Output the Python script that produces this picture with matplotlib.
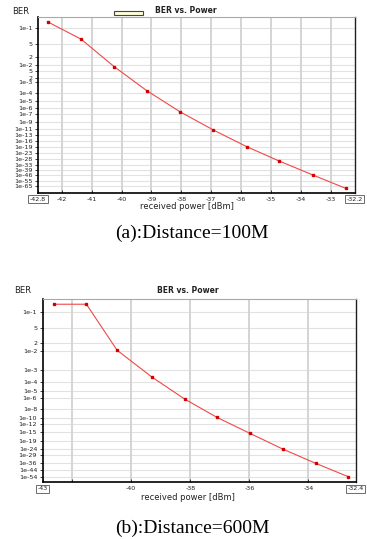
import math
import numpy as np
import matplotlib
matplotlib.use("Agg")
import matplotlib.pyplot as plt
from matplotlib.patches import Rectangle
from matplotlib.ticker import FixedLocator, FixedFormatter, NullLocator

# ---------------- data ----------------
power_a = [-42.48, -41.36, -40.25, -39.16, -38.05, -36.93, -35.81, -34.73, -33.60, -32.50]
ber_a = [1.25e-1, 6.3e-2, 8.1e-3, 1.8e-4, 2.3e-7, 4.7e-12, 1.5e-19, 4.2e-30, 1.5e-46, 5e-71]

power_b = [-42.62, -41.52, -40.48, -39.30, -38.19, -37.10, -35.98, -34.87, -33.75, -32.65]
ber_b = [1.27e-1, 1.27e-1, 1.1e-2, 2.9e-4, 7.9e-7, 1.2e-10, 3.5e-16, 6.6e-25, 2.3e-37, 5.9e-55]

yticks_a = [1e-1, 5e-2, 2e-2, 1e-2, 5e-3, 2e-3, 1e-3, 1e-4, 1e-5, 1e-6, 1e-7, 1e-9,
            1e-11, 1e-13, 1e-16, 1e-19, 1e-23, 1e-28, 1e-33, 1e-39, 1e-46, 1e-55, 1e-65]
ylabels_a = ["1e-1", "5", "2", "1e-2", "5", "2", "1e-3", "1e-4", "1e-5", "1e-6", "1e-7", "1e-9",
             "1e-11", "1e-13", "1e-16", "1e-19", "1e-23", "1e-28", "1e-33", "1e-39", "1e-46",
             "1e-55", "1e-65"]
yticks_b = [1e-1, 5e-2, 2e-2, 1e-2, 1e-3, 1e-4, 1e-5, 1e-6, 1e-8, 1e-10, 1e-12, 1e-15,
            1e-19, 1e-24, 1e-29, 1e-36, 1e-44, 1e-54]
ylabels_b = ["1e-1", "5", "2", "1e-2", "1e-3", "1e-4", "1e-5", "1e-6", "1e-8", "1e-10",
             "1e-12", "1e-15", "1e-19", "1e-24", "1e-29", "1e-36", "1e-44", "1e-54"]

xticks_a = [-42.8, -42, -41, -40, -39, -38, -37, -36, -35, -34, -33, -32.2]
xlabels_a = ["-42.8", "-42", "-41", "-40", "-39", "-38", "-37", "-36", "-35", "-34", "-33", "-32.2"]
xticks_b = [-43, -42, -40, -38, -36, -34, -32.4]
xlabels_b = ["-43", "", "-40", "-38", "-36", "-34", "-32.4"]

xlim_a = (-42.8, -32.2)
xlim_b = (-43.0, -32.4)
ylim_a = (1e-81, 0.145)
ylim_b = (1.1e-64, 0.146)

# ---------------- BER scale (negative log of Q-factor) ----------------
_erfc = np.vectorize(math.erfc, otypes=[float])


def ber_to_y(ber):
    ber = np.asarray(ber, dtype=float)
    b = np.clip(ber, 1e-300, 0.4999999)
    target = np.log(b)
    lo = np.zeros_like(b)
    hi = np.full_like(b, 37.0)
    for _ in range(70):
        mid = 0.5 * (lo + hi)
        val = np.log(np.maximum(0.5 * _erfc(mid / math.sqrt(2.0)), 1e-320))
        too_big = val > target
        lo = np.where(too_big, mid, lo)
        hi = np.where(too_big, hi, mid)
    q = np.maximum(0.5 * (lo + hi), 1e-6)
    return -np.log10(q)


def y_to_ber(y):
    y = np.asarray(y, dtype=float)
    q = np.power(10.0, np.clip(-y, -6, 1.55))
    return 0.5 * _erfc(q / math.sqrt(2.0))


W, H = 367, 539
fig = plt.figure(figsize=(W / 100, H / 100), dpi=100)
fig.patch.set_facecolor("white")


def fx(px):
    return px / W


def fy(py):
    return 1 - py / H


def setup(ax, power, ber, xt, xl, yt, yl, xlim, ylim, grid_x):
    ax.set_yscale("function", functions=(ber_to_y, y_to_ber))
    ax.plot(power, ber, color="#f04848", lw=0.8, marker="s", ms=2.0,
            mfc="#d00000", mec="#d00000", zorder=3)
    ax.set_xlim(*xlim)
    ax.set_ylim(*ylim)
    ax.yaxis.set_major_locator(FixedLocator(yt))
    ax.yaxis.set_major_formatter(FixedFormatter(yl))
    ax.yaxis.set_minor_locator(NullLocator())
    ax.xaxis.set_major_locator(FixedLocator(xt))
    ax.xaxis.set_major_formatter(FixedFormatter(xl))
    ax.xaxis.set_minor_locator(NullLocator())
    for yv in yt:
        ax.axhline(yv, color="#e2e2e2", lw=0.8, zorder=0)
    for xv in grid_x:
        ax.axvline(xv, color="#d4d4d4", lw=1.4, zorder=0)
    ax.tick_params(axis="both", labelsize=4.6, colors="#222222", width=0.6)
    ax.tick_params(axis="y", direction="out", length=2.5, pad=1.5)
    ax.tick_params(axis="x", direction="in", length=2.5, pad=3)
    for s in ("left", "bottom"):
        ax.spines[s].set_color("black")
        ax.spines[s].set_linewidth(1.2)
    ax.spines["top"].set_color("#a8a8a8")
    ax.spines["top"].set_linewidth(0.8)
    ax.spines["right"].set_color("#202020")
    ax.spines["right"].set_linewidth(1.0)
    labs = ax.get_xticklabels()
    for lab in (labs[0], labs[-1]):
        lab.set_bbox(dict(boxstyle="square,pad=0.25", fc="white", ec="#555555", lw=0.6))


ax_a = fig.add_axes([fx(38), fy(192.7), 316.6 / W, 176 / H])
setup(ax_a, power_a, ber_a, xticks_a, xlabels_a, yticks_a, ylabels_a, xlim_a, ylim_a,
      [-42, -41, -40, -39, -38, -37, -36, -35, -34, -33])

ax_b = fig.add_axes([fx(42.7), fy(482.3), 313 / W, 183.3 / H])
setup(ax_b, power_b, ber_b, xticks_b, xlabels_b, yticks_b, ylabels_b, xlim_b, ylim_b,
      [-42, -40, -38, -36, -34])

# header texts
small = dict(family="DejaVu Sans", color="#222222")
fig.text(fx(12), fy(11.7), "BER", ha="left", va="center", fontsize=6, **small)
fig.text(fx(186), fy(10.5), "BER vs. Power", ha="center", va="center", fontsize=5.5,
         fontweight="bold", **small)
fig.patches.append(Rectangle((fx(114), fy(15)), 29 / W, 4 / H, transform=fig.transFigure,
                             fc="#ffffd8", ec="#444444", lw=0.8))
fig.text(fx(187), fy(206.7), "received power [dBm]", ha="center", va="center",
         fontsize=6, **small)

fig.text(fx(14.3), fy(290.7), "BER", ha="left", va="center", fontsize=6, **small)
fig.text(fx(187.5), fy(290.7), "BER vs. Power", ha="center", va="center", fontsize=5.5,
         fontweight="bold", **small)
fig.text(fx(188.3), fy(498), "received power [dBm]", ha="center", va="center",
         fontsize=6, **small)

# captions
fig.text(fx(192), fy(233), "(a):Distance=100M", ha="center", va="center", fontsize=14,
         family="Liberation Serif", color="black")
fig.text(fx(192), fy(528), "(b):Distance=600M", ha="center", va="center", fontsize=14,
         family="Liberation Serif", color="black")

fig.savefig("out.png", dpi=100, facecolor="white")
